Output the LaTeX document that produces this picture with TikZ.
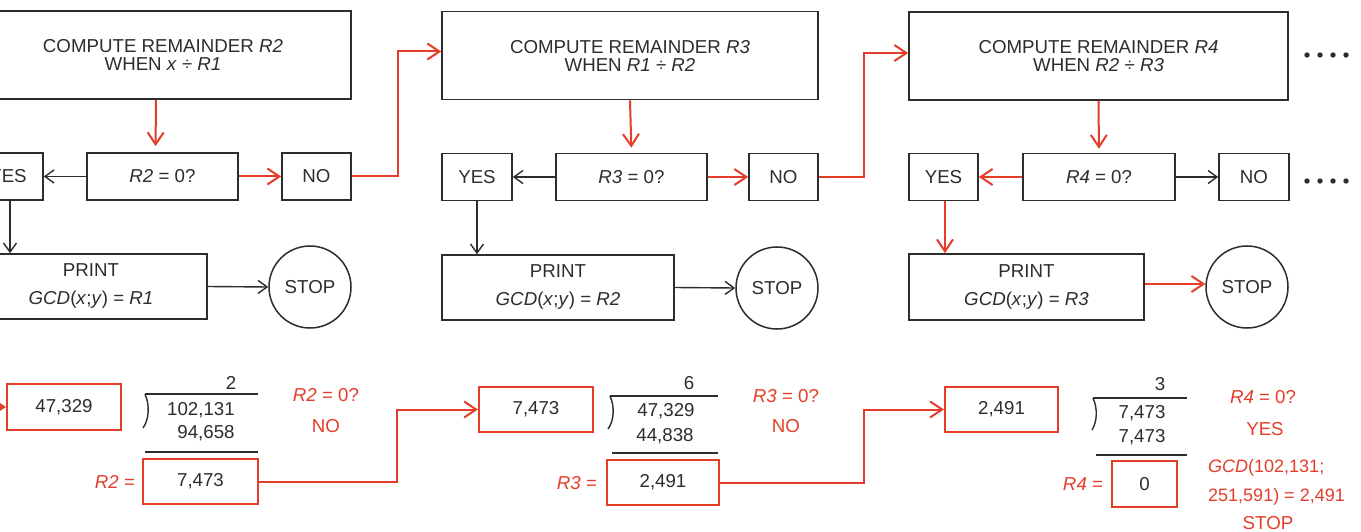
\documentclass[tikz,border=0pt]{standalone}
\usepackage{fontspec}
\setmainfont{Liberation Sans}
\usetikzlibrary{arrows.meta,calc}
\definecolor{fred}{RGB}{228,62,42}
\definecolor{fgray}{RGB}{45,45,45}
\begin{document}
\begin{tikzpicture}[x=1pt,y=-1pt,
  every node/.style={font=\fontsize{18.7}{22}\selectfont, text=fgray, inner sep=0pt},
  box/.style={draw=fgray, line width=1.6pt, rectangle},
  rbox/.style={draw=fred, line width=2.2pt, rectangle},
  circ/.style={draw=fgray, line width=1.5pt, circle, minimum size=82pt},
  blk/.style={draw=fgray, line width=1.4pt, -{Straight Barb[length=9pt,width=13pt]}},
  redl/.style={draw=fred, line width=2pt, -{Straight Barb[length=12pt,width=16pt]}},
  rtext/.style={text=fred},
  divl/.style={draw=fgray, line width=1.4pt},
  comp/.style={box, minimum height=88pt, align=center, font=\fontsize{18.7}{18}\selectfont},
  dec/.style={box, minimum height=47pt},
  prt/.style={box, minimum height=65pt, align=center, font=\fontsize{18.7}{28}\selectfont},
]
\useasboundingbox (0,0) rectangle (1361,532);
\clip (0,0) rectangle (1361,532);
\fill[white] (0,0) rectangle (1361,532);

% ---- top flow chart ----
\node[comp, minimum width=376pt] (comp1) at (163,55) {COMPUTE REMAINDER \textit{R2}\\WHEN \textit{x} ÷ \textit{R1}};
\node[comp, minimum width=376pt] (comp2) at (630,55.5) {COMPUTE REMAINDER \textit{R3}\\WHEN \textit{R1} ÷ \textit{R2}};
\node[comp, minimum width=379pt] (comp3) at (1098.5,56) {COMPUTE REMAINDER \textit{R4}\\WHEN \textit{R2} ÷ \textit{R3}};

\node[dec, minimum width=70pt] (yes1) at (8,176.5) {YES};
\node[dec, minimum width=151pt] (q1) at (162.5,176.5) {\textit{R2} = 0?};
\node[dec, minimum width=69pt] (no1) at (316.5,176.5) {NO};
\node[dec, minimum width=70pt] (yes2) at (477,177) {YES};
\node[dec, minimum width=151pt] (q2) at (631.5,177) {\textit{R3} = 0?};
\node[dec, minimum width=69pt] (no2) at (783.5,177) {NO};
\node[dec, minimum width=69pt] (yes3) at (943.5,177) {YES};
\node[dec, minimum width=152pt] (q3) at (1099,177) {\textit{R4} = 0?};
\node[dec, minimum width=70pt] (no3) at (1254,177) {NO};

\node[prt, minimum width=232pt] (pr1) at (91,286.5) {PRINT\\\textit{GCD}(\textit{x};\textit{y}) = \textit{R1}};
\node[circ] (stop1) at (310,287) {STOP};
\node[prt, minimum width=232pt] (pr2) at (558,287.5) {PRINT\\\textit{GCD}(\textit{x};\textit{y}) = \textit{R2}};
\node[circ] (stop2) at (777,288) {STOP};
\node[prt, minimum width=235pt, minimum height=66pt] (pr3) at (1026.5,287) {PRINT\\\textit{GCD}(\textit{x};\textit{y}) = \textit{R3}};
\node[circ] (stop3) at (1247,287) {STOP};

\foreach \xx in {1307,1320,1333,1346} {
  \fill[fgray] (\xx,55) circle (2.7pt);
  \fill[fgray] (\xx,181) circle (2.7pt);
}

% connectors column 1
\draw[redl, shorten >=6pt] ([xshift=-7pt]comp1.south) -- ([xshift=-7pt]q1.north);
\draw[blk] (q1.west) -- (yes1.east);
\draw[redl] (q1.east) -- (no1.west);
\draw[blk] ([xshift=2pt]yes1.south) -- ([xshift=2pt]yes1.south |- pr1.north);
\draw[blk] (pr1.east) -- (stop1.west);
\coordinate (k1) at (398,0);
\coordinate (c2in) at ([yshift=4pt]comp2.west);
\draw[redl] (no1.east) -| (k1 |- c2in) -- (c2in);

% column 2
\draw[redl, shorten >=5pt] (comp2.south) -- (q2.north);
\draw[blk] (q2.west) -- (yes2.east);
\draw[redl] (q2.east) -- (no2.west);
\draw[blk] (yes2.south) -- (yes2.south |- pr2.north);
\draw[blk] (pr2.east) -- (stop2.west);
\coordinate (k2) at (864,0);
\coordinate (c3in) at ([yshift=3pt]comp3.west);
\draw[redl] (no2.east) -| (k2 |- c3in) -- (c3in);

% column 3
\draw[redl, shorten >=4pt] (comp3.south) -- (q3.north);
\draw[redl] (q3.west) -- (yes3.east);
\draw[blk] (q3.east) -- (no3.west);
\draw[redl] ([xshift=1.5pt]yes3.south) -- ([xshift=1.5pt]yes3.south |- pr3.north);
\draw[redl] ([yshift=3pt]pr3.east) -- ([yshift=3pt]stop3.west);

% ---- bottom worked example ----
\node[rbox, minimum width=114pt, minimum height=46pt] (b1) at (64,407) {47,329};
\coordinate (in0) at (-30,407);
\draw[redl] (in0) -- (b1.west);

\node (d1q) at (231,383) {2};
\draw[divl] (145,394) -- (258,394);
\draw[divl] (145,394) .. controls (150,405) and (149,420) .. (143,428);
\node (d1a) at (201,410) {102,131};
\node (d1b) at (206,433) {94,658};
\draw[divl] (145,452) -- (258,452);
\node[rtext] (t1a) at (326,395) {\textit{R2} = 0?};
\node[rtext] (t1b) at (326,426) {NO};
\node[rtext] (t1c) at (115,482) {\textit{R2} =};
\node[rbox, minimum width=115pt, minimum height=45pt] (r2box) at (200.5,481.5) {7,473};

\node[rbox, minimum width=114pt, minimum height=45pt] (b2) at (536,409.5) {7,473};
\coordinate (k3) at (397,0);
\draw[redl] (r2box.east) -| (k3 |- b2.west) -- (b2.west);

\node (d2q) at (689,383) {6};
\draw[divl] (610,396) -- (718,396);
\draw[divl] (610,396) .. controls (615,407) and (614,421) .. (608,429);
\node (d2a) at (666,411) {47,329};
\node (d2b) at (665,436) {44,838};
\draw[divl] (612,453) -- (718,453);
\node[rtext] (t2a) at (786,396) {\textit{R3} = 0?};
\node[rtext] (t2b) at (786,426) {NO};
\node[rtext] (t2c) at (577,483) {\textit{R3} =};
\node[rbox, minimum width=112pt, minimum height=45pt] (r3box) at (663,482.5) {2,491};

\node[rbox, minimum width=113pt, minimum height=45pt] (b3) at (1001.5,409.5) {2,491};
\coordinate (k4) at (864,0);
\draw[redl] (r3box.east) -| (k4 |- b3.west) -- (b3.west);

\node (d3q) at (1160,384) {3};
\draw[divl] (1093,398) -- (1187,398);
\draw[divl] (1093,398) .. controls (1098,409) and (1097,422) .. (1092,430);
\node (d3a) at (1142,413) {7,473};
\node (d3b) at (1142,437) {7,473};
\draw[divl] (1096,455) -- (1187,455);
\node[rtext] (t3a) at (1263,397) {\textit{R4} = 0?};
\node[rtext] (t3b) at (1265,429) {YES};
\node[rtext] (t3c) at (1083,484) {\textit{R4} =};
\node[rbox, minimum width=65pt, minimum height=46pt] (r4box) at (1144.5,484) {0};
\node[rtext, anchor=west, align=left, font=\fontsize{18}{29}\selectfont] (t3d) at (1208,482.5) {\textit{GCD}(102,131;\\251,591) = 2,491};
\node[rtext] (t3e) at (1268,523) {STOP};
\end{tikzpicture}
\end{document}
